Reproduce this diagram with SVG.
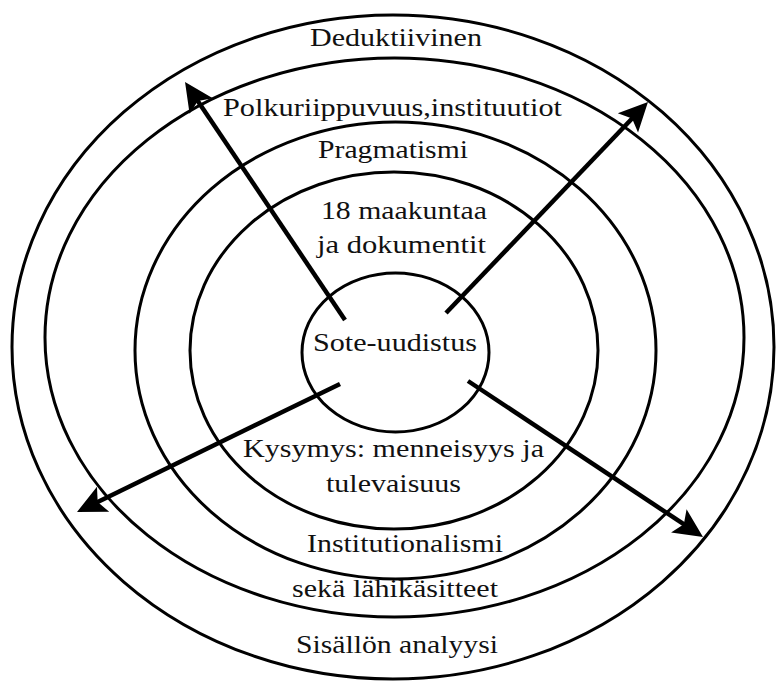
<svg xmlns="http://www.w3.org/2000/svg" width="776" height="682" viewBox="0 0 776 682">
<style>
.ring{fill:none;stroke:#000;stroke-width:3}
.lbl{font-family:"Liberation Serif","Times New Roman",serif;font-size:25px;fill:#111;text-anchor:start}
.arr{stroke:#000;stroke-width:4.5;fill:none;marker-end:url(#head)}
</style>
<defs>
<marker id="head" markerUnits="userSpaceOnUse" markerWidth="40" markerHeight="32" viewBox="0 -16 40 32" refX="15" refY="0" orient="auto">
<path d="M30,0 L1,-14 L7,0 L1,14 Z" fill="#000"/>
</marker>
</defs>
<rect width="776" height="682" fill="#fff"/>
<g id="ring-outer">
<ellipse class="ring" cx="393" cy="347" rx="381" ry="332"/>
<text class="lbl" x="310" y="46" textLength="172" lengthAdjust="spacingAndGlyphs">Deduktiivinen</text>
<text class="lbl" x="296" y="653" textLength="202" lengthAdjust="spacingAndGlyphs">Sisällön analyysi</text>
</g>
<g id="ring-2">
<ellipse class="ring" cx="394.5" cy="337.5" rx="349.5" ry="279.5"/>
<text class="lbl" x="223" y="116" textLength="339" lengthAdjust="spacingAndGlyphs">Polkuriippuvuus,instituutiot</text>
<text class="lbl" x="292" y="597" textLength="206" lengthAdjust="spacingAndGlyphs">sekä lähikäsitteet</text>
</g>
<g id="ring-3">
<ellipse class="ring" cx="395.5" cy="350.5" rx="260.5" ry="228.5"/>
<text class="lbl" x="318" y="158" textLength="150" lengthAdjust="spacingAndGlyphs">Pragmatismi</text>
<text class="lbl" x="307" y="552" textLength="196" lengthAdjust="spacingAndGlyphs">Institutionalismi</text>
</g>
<g id="ring-4">
<ellipse class="ring" cx="394" cy="350.5" rx="204" ry="178.5"/>
<text class="lbl" x="321" y="219" textLength="166" lengthAdjust="spacingAndGlyphs">18 maakuntaa</text>
<text class="lbl" x="317" y="253" textLength="169" lengthAdjust="spacingAndGlyphs">ja dokumentit</text>
<text class="lbl" x="243" y="457" textLength="301" lengthAdjust="spacingAndGlyphs">Kysymys: menneisyys ja</text>
<text class="lbl" x="326" y="492" textLength="135" lengthAdjust="spacingAndGlyphs">tulevaisuus</text>
</g>
<g id="core">
<ellipse class="ring" cx="395.5" cy="352.5" rx="93.5" ry="79.5"/>
<text class="lbl" x="313" y="351" textLength="164" lengthAdjust="spacingAndGlyphs">Sote-uudistus</text>
</g>
<g id="connectors">
<line class="arr" x1="345" y1="320" x2="193.4" y2="94.4"/>
<line class="arr" x1="446" y1="313" x2="637.6" y2="112.8"/>
<line class="arr" x1="340" y1="384" x2="90.5" y2="505.4"/>
<line class="arr" x1="468" y1="381" x2="690.5" y2="528.7"/>
</g>
</svg>
